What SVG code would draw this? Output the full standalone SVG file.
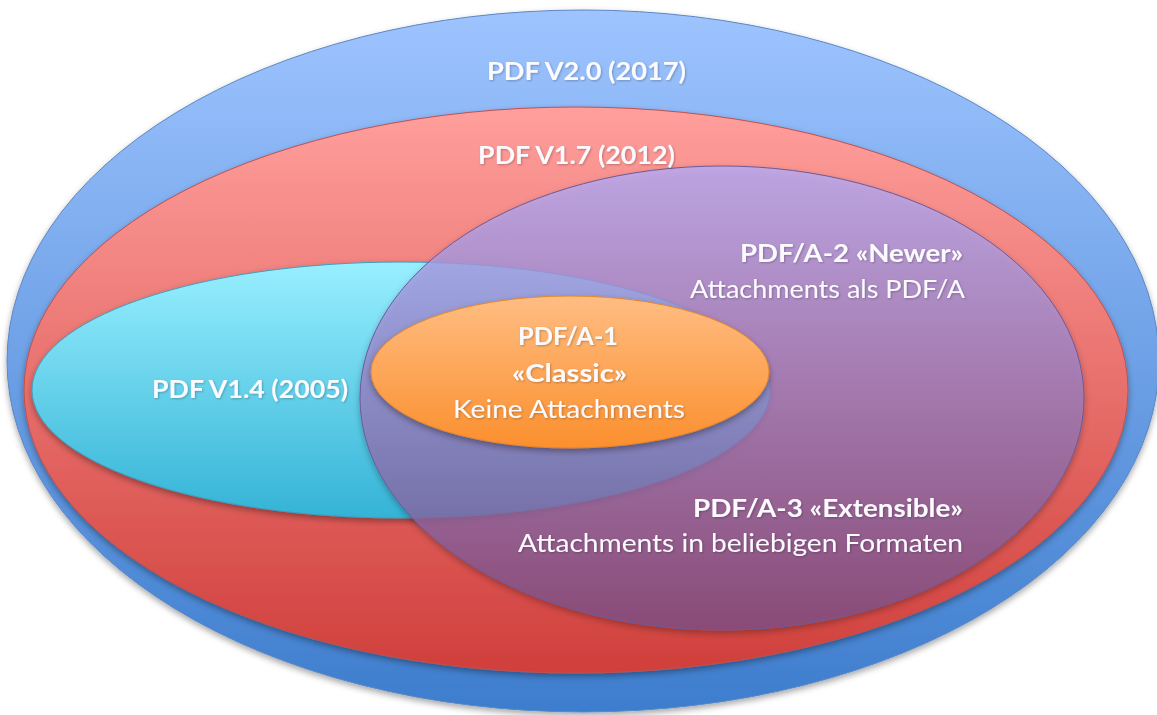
<svg xmlns="http://www.w3.org/2000/svg" width="1157" height="715" viewBox="0 0 1157 715">
<defs>
<linearGradient id="gBlue" x1="0" y1="0" x2="0" y2="1"><stop offset="0" stop-color="#9ec4ff"/><stop offset="1" stop-color="#3d7dcd"/></linearGradient>
<linearGradient id="gRed" x1="0" y1="0" x2="0" y2="1"><stop offset="0" stop-color="#ff9f9c"/><stop offset="1" stop-color="#d03f3b"/></linearGradient>
<linearGradient id="gCyan" x1="0" y1="0" x2="0" y2="1"><stop offset="0" stop-color="#98efff"/><stop offset="1" stop-color="#34b3d6"/></linearGradient>
<linearGradient id="gPurple" x1="0" y1="0" x2="0" y2="1"><stop offset="0" stop-color="#b4aefc"/><stop offset="1" stop-color="#7d4f88"/></linearGradient>
<linearGradient id="gOrange" x1="0" y1="0" x2="0" y2="1"><stop offset="0" stop-color="#ffbd82"/><stop offset="1" stop-color="#fb8f2e"/></linearGradient>
<filter id="sh" x="-10%" y="-10%" width="120%" height="125%">
<feDropShadow dx="0" dy="3" stdDeviation="3" flood-color="#000" flood-opacity="0.35"/>
</filter>
<filter id="tsh" x="-5%" y="-20%" width="110%" height="140%">
<feDropShadow dx="1" dy="1" stdDeviation="1" flood-color="#000" flood-opacity="0.25"/>
</filter>
</defs>
<style>
.e{filter:url(#sh);}
.t{font-family:Lato,"Liberation Sans",sans-serif;font-size:25px;fill:#fbfbff;filter:url(#tsh);}
.b{font-weight:bold;}
</style>
<rect width="1157" height="715" fill="#ffffff"/>
<g id="pdf20"><ellipse class="e" cx="583" cy="361" rx="576" ry="351" fill="url(#gBlue)" stroke="#5b86c4" stroke-width="1"/></g>
<g id="pdf17"><ellipse class="e" cx="576" cy="390" rx="552" ry="283" fill="url(#gRed)" stroke="#c0504d" stroke-width="1"/></g>
<g id="pdf14"><ellipse class="e" cx="401" cy="390" rx="369" ry="128" fill="url(#gCyan)" stroke="#3aa0c0" stroke-width="1"/></g>
<g id="pdfa2"><ellipse class="e" cx="722" cy="398" rx="362" ry="232" fill="url(#gPurple)" fill-opacity="0.75" stroke="#6a5a9a" stroke-width="1"/></g>
<g id="pdfa1"><ellipse class="e" cx="570" cy="372" rx="199" ry="76" fill="url(#gOrange)" stroke="#e8872a" stroke-width="1"/></g>
<g id="connectors"/>
<g id="labels">
<text class="t b" x="487" y="80" textLength="199" lengthAdjust="spacingAndGlyphs">PDF V2.0 (2017)</text>
<text class="t b" x="478" y="164" textLength="197" lengthAdjust="spacingAndGlyphs">PDF V1.7 (2012)</text>
<text class="t b" x="152" y="398" textLength="196" lengthAdjust="spacingAndGlyphs">PDF V1.4 (2005)</text>
<text class="t b" x="518" y="345" textLength="100" lengthAdjust="spacingAndGlyphs">PDF/A-1</text>
<text class="t b" x="512" y="382" textLength="115" lengthAdjust="spacingAndGlyphs">«Classic»</text>
<text class="t" x="453" y="418" textLength="232" lengthAdjust="spacingAndGlyphs">Keine Attachments</text>
<text class="t b" x="740" y="262" textLength="223" lengthAdjust="spacingAndGlyphs">PDF/A-2 «Newer»</text>
<text class="t" x="690" y="298" textLength="275" lengthAdjust="spacingAndGlyphs">Attachments als PDF/A</text>
<text class="t b" x="693" y="517" textLength="270" lengthAdjust="spacingAndGlyphs">PDF/A-3 «Extensible»</text>
<text class="t" x="518" y="552" textLength="445" lengthAdjust="spacingAndGlyphs">Attachments in beliebigen Formaten</text>
</g>
</svg>
